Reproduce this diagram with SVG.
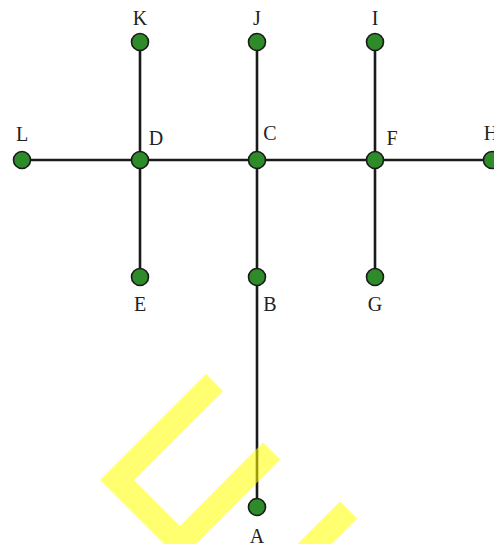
<svg xmlns="http://www.w3.org/2000/svg" width="494" height="544" viewBox="0 0 494 544">
<style>
.edge{stroke:#1a1a1a;stroke-width:2.6;fill:none}
.node circle{fill:#2e8b2a;stroke:#1a1a1a;stroke-width:1.6}
.node text{font-family:"Liberation Serif","Times New Roman",serif;font-size:20px;fill:#222;text-anchor:middle}
.wm{stroke:#ffff00;stroke-opacity:0.56;stroke-width:24;fill:none;stroke-linejoin:miter}
</style>
<rect width="494" height="544" fill="#fff"/>
<g id="connectors">
<line class="edge" x1="22" y1="160" x2="492" y2="160"/>
<line class="edge" x1="140" y1="42" x2="140" y2="277"/>
<line class="edge" x1="257" y1="42" x2="257" y2="507"/>
<line class="edge" x1="375" y1="42" x2="375" y2="277"/>
</g>
<g id="K" class="node"><circle cx="140" cy="42" r="8.5"/><text x="140" y="25">K</text></g>
<g id="J" class="node"><circle cx="257" cy="42" r="8.5"/><text x="257" y="25">J</text></g>
<g id="I" class="node"><circle cx="375" cy="42" r="8.5"/><text x="375" y="25">I</text></g>
<g id="L" class="node"><circle cx="22" cy="160" r="8.5"/><text x="22" y="141">L</text></g>
<g id="D" class="node"><circle cx="140" cy="160" r="8.5"/><text x="156" y="145">D</text></g>
<g id="C" class="node"><circle cx="257" cy="160" r="8.5"/><text x="270" y="140">C</text></g>
<g id="F" class="node"><circle cx="375" cy="160" r="8.5"/><text x="392" y="145">F</text></g>
<g id="H" class="node"><circle cx="492" cy="160" r="8.5"/><text x="491" y="140">H</text></g>
<g id="E" class="node"><circle cx="140" cy="277" r="8.5"/><text x="140" y="311">E</text></g>
<g id="B" class="node"><circle cx="257" cy="277" r="8.5"/><text x="270" y="311">B</text></g>
<g id="G" class="node"><circle cx="375" cy="277" r="8.5"/><text x="375" y="311">G</text></g>
<g id="A" class="node"><circle cx="257" cy="507" r="8.5"/><text x="257" y="543">A</text></g>
<polyline class="wm" points="214.5,382.5 117,480 180,543 271.5,451"/>
<line class="wm" x1="348.5" y1="510" x2="305" y2="553.5"/>
</svg>
